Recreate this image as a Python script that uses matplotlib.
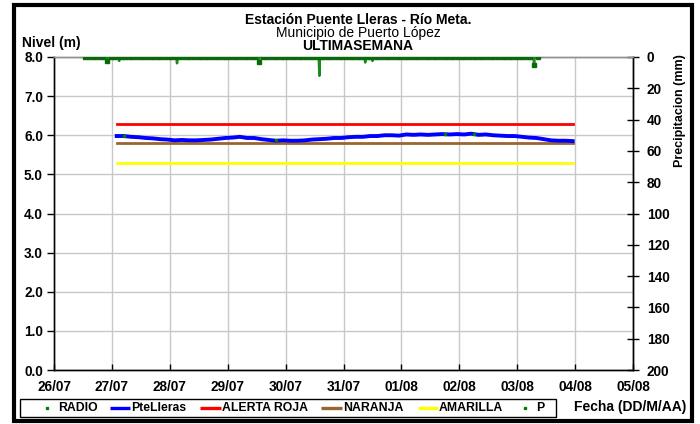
import matplotlib
matplotlib.use("Agg")
import matplotlib.pyplot as plt
import matplotlib.dates as mdates
from matplotlib.lines import Line2D
from matplotlib.patches import Rectangle
import pandas as pd
import numpy as np

plt.rcParams['font.family'] = ['Liberation Sans', 'DejaVu Sans']

# ---------------- data ----------------
title1 = "Estación Puente Lleras - Río Meta."
title2 = "Municipio de Puerto López"
title3 = "ULTIMASEMANA"

# river level (m), every 3 hours from 27/07 02:00
level_start = "2014-07-27 02:00"
level_values = [5.98, 5.98, 5.96, 5.95, 5.93, 5.92, 5.90, 5.89, 5.87, 5.88,
                5.87, 5.87, 5.88, 5.89, 5.91, 5.93, 5.94, 5.96, 5.93, 5.93,
                5.90, 5.88, 5.86, 5.87, 5.86, 5.86, 5.87, 5.89, 5.90, 5.91,
                5.93, 5.93, 5.95, 5.96, 5.96, 5.98, 5.98, 6.00, 6.00, 5.99,
                6.02, 6.01, 6.02, 6.01, 6.02, 6.03, 6.02, 6.03, 6.02, 6.04,
                6.01, 6.02, 6.00, 5.99, 5.98, 5.98, 5.96, 5.94, 5.93, 5.90,
                5.87, 5.86, 5.86, 5.85]

# alert thresholds (m)
alert_start = "2014-07-27 02:00"
alert_end = "2014-08-03 23:00"
alerta_roja = 6.3
naranja = 5.8
amarilla = 5.3

# radio readings (m)
radio_times = ["2014-07-27 05:00", "2014-07-29 20:00", "2014-08-01 18:00", "2014-08-02 06:00"]
radio_values = [5.99, 5.87, 6.02, 6.02]

# precipitation (mm): every 15 min, from 26/07 13:00 to 03/08 09:00, zero except events
precip_start = "2014-07-26 13:00"
precip_end = "2014-08-03 09:00"
precip_event_times = ["2014-07-26 22:00", "2014-07-27 03:00", "2014-07-28 03:00",
                      "2014-07-29 13:00", "2014-07-30 14:00", "2014-07-31 09:00",
                      "2014-07-31 12:00", "2014-08-03 07:00"]
precip_event_values = [2.5, 2.5, 4.0, 3.0, 12.0, 3.5, 2.5, 5.0]

x_tick_dates = pd.date_range("2014-07-26", "2014-08-05", freq="D")
level_ticks = [0, 1, 2, 3, 4, 5, 6, 7, 8]
precip_ticks = [0, 20, 40, 60, 80, 100, 120, 140, 160, 180, 200]

# ---------------- figure ----------------
W, H = 700, 424
fig = plt.figure(figsize=(W / 100, H / 100), dpi=100)

def fx(px):
    return px / W

def fy(py):
    return 1 - py / H

ax = fig.add_axes([fx(54), fy(370), fx(633) - fx(54), fy(57) - fy(370)])
ax2 = ax.twinx()

# level series
lt = pd.date_range(level_start, periods=len(level_values), freq="3h")
ax.plot(lt, level_values, color="#0000ff", lw=2.8, zorder=5)
ax.plot(pd.to_datetime(radio_times), radio_values, ls="none", marker="s", ms=1.6,
        color="#008000", zorder=6)

at = pd.to_datetime([alert_start, alert_end])
ax.plot(at, [alerta_roja] * 2, color="#ff0000", lw=2, zorder=4)
ax.plot(at, [naranja] * 2, color="#996633", lw=2, zorder=4)
ax.plot(at, [amarilla] * 2, color="#ffff00", lw=2, zorder=4)

# precipitation series
pt = pd.date_range(precip_start, precip_end, freq="15min")
pv = pd.Series(0.0, index=pt)
for t, v in zip(pd.to_datetime(precip_event_times), precip_event_values):
    pv[t] = v
ax2.plot(pv.index, pv.values, color="#1a8a1a", lw=1.8, marker="s", ms=2.2,
         markevery=6, mec="#0a6a0a", mfc="#0a6a0a", zorder=5)

# axes setup
ax.set_xlim(x_tick_dates[0], x_tick_dates[-1])
ax.set_ylim(0, 8)
ax.set_yticks(level_ticks)
ax.yaxis.set_major_formatter(matplotlib.ticker.FormatStrFormatter("%.1f"))
ax.set_xticks(x_tick_dates)
ax.xaxis.set_major_formatter(mdates.DateFormatter("%d/%m"))
ax.grid(True, color="#c8c8c8", lw=1)
ax.set_axisbelow(True)

ax2.set_ylim(200, 0)
ax2.set_yticks(precip_ticks)

for a in (ax, ax2):
    for s in a.spines.values():
        s.set_linewidth(1)
    a.spines['top'].set_color("#909090")
ax.spines['left'].set_color("#404040")
ax.spines['bottom'].set_color("#202020")
ax2.spines['right'].set_color("#000000")

ax.tick_params(axis='y', direction='out', length=5, width=1, pad=3,
               labelsize=9.8, colors="#000000")
ax.tick_params(axis='x', direction='in', length=4, width=1, pad=7,
               labelsize=9.8)
ax2.tick_params(axis='y', direction='inout', length=8, width=1, pad=6,
                labelsize=9.8)
for lab in ax.get_xticklabels() + ax.get_yticklabels() + ax2.get_yticklabels():
    lab.set_fontweight('bold')

# titles and labels
cx = fx(358)
fig.text(cx, fy(20.5), title1, ha='center', va='center', fontsize=10, fontweight='bold')
fig.text(cx, fy(33.5), title2, ha='center', va='center', fontsize=10)
fig.text(cx, fy(46.5), title3, ha='center', va='center', fontsize=10, fontweight='bold')
fig.text(fx(22), fy(43.5), "Nivel (m)", ha='left', va='center', fontsize=10, fontweight='bold')
fig.text(fx(680), fy(111), "Precipitacion (mm)", ha='center', va='center', rotation=90,
         fontsize=9, fontweight='bold')
fig.text(fx(630), fy(407), "Fecha (DD/M/AA)", ha='center', va='center', fontsize=10,
         fontweight='bold')

# legend (manual)
fig.add_artist(Rectangle((fx(20), fy(417)), fx(556) - fx(20), fy(399) - fy(417),
                         transform=fig.transFigure, fill=False, ec="#000000", lw=1))
ly = fy(408)
legend_items = [
    ("RADIO", "dot", "#008000", 47, 58),
    ("PteLleras", "line", "#0000ff", 110, 131),
    ("ALERTA ROJA", "line", "#ff0000", 200, 222),
    ("NARANJA", "line", "#996633", 321, 343),
    ("AMARILLA", "line", "#ffff00", 418, 439),
    ("P", "dot", "#008000", 525, 536),
]
for label, kind, col, hx, tx in legend_items:
    if kind == "dot":
        fig.add_artist(Line2D([fx(hx)], [ly], transform=fig.transFigure, marker="s",
                              ms=1.8, color=col, ls="none"))
    else:
        fig.add_artist(Line2D([fx(hx), fx(tx - 1)], [ly, ly], transform=fig.transFigure,
                              color=col, lw=2.4, solid_capstyle="butt"))
    fig.text(fx(tx), ly, label, ha='left', va='center', fontsize=8.8, fontweight='bold')

# outer border
fig.add_artist(Rectangle((fx(14.5), fy(421)), fx(691.5) - fx(14.5), fy(5) - fy(421),
                         transform=fig.transFigure, fill=False, ec="#000000", lw=3))

fig.savefig("out.png", dpi=100)
